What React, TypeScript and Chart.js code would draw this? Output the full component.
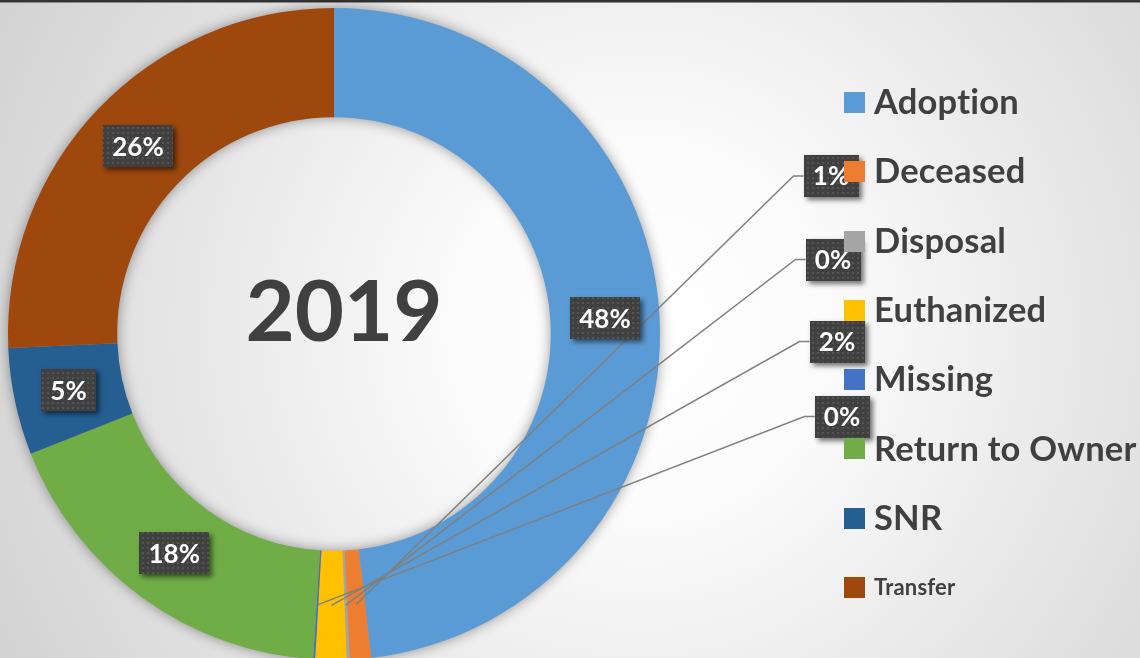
import React, { useEffect, useRef } from "react";
import { Chart, registerables } from "chart.js";

Chart.register(...registerables);

// ---- data ----
const categories = [
  "Adoption",
  "Deceased",
  "Disposal",
  "Euthanized",
  "Missing",
  "Return to Owner",
  "SNR",
  "Transfer",
];
const shares = [48.2, 1.05, 0.15, 1.55, 0.1, 18.0, 5.3, 25.7];
const sliceColors = [
  "#5B9BD5",
  "#ED7D31",
  "#A5A5A5",
  "#FFC000",
  "#4472C4",
  "#70AD47",
  "#255E91",
  "#9E480E",
];
const centerTitle = "2019";
const legendFontSizes = [34.5, 34.5, 34.5, 34.5, 34.5, 34.5, 34.5, 22];

// label boxes of tiny slices are moved out to the right, with leader lines
const outsideLabelCenters: Record<number, [number, number]> = {
  1: [831, 176],
  2: [833, 259.5],
  3: [837, 341.5],
  4: [842, 416.5],
};

const FONT = "Lato, 'Open Sans', 'Noto Sans', sans-serif";
const TEXT_COLOR = "#404040";

function makePattern(ctx: CanvasRenderingContext2D) {
  const c = document.createElement("canvas");
  c.width = 5;
  c.height = 5;
  const p = c.getContext("2d")!;
  p.fillStyle = "#404040";
  p.fillRect(0, 0, 5, 5);
  p.fillStyle = "#545454";
  p.fillRect(2, 2, 2, 2);
  return ctx.createPattern(c, "repeat")!;
}

const backgroundPlugin = {
  id: "bg",
  beforeDraw(chart: any) {
    const ctx: CanvasRenderingContext2D = chart.ctx;
    const w = chart.width;
    const h = chart.height;
    ctx.save();
    const g = ctx.createRadialGradient(640, 330, 0, 640, 330, 760);
    g.addColorStop(0, "#ffffff");
    g.addColorStop(0.25, "#fbfbfb");
    g.addColorStop(1, "#cfcfcf");
    ctx.fillStyle = g;
    ctx.fillRect(0, 0, w, h);
    ctx.fillStyle = "#333333";
    ctx.fillRect(0, 0, w, 2);
    ctx.fillStyle = "#8a8a8a";
    ctx.fillRect(0, 2, w, 1);
    ctx.restore();
  },
};

const ringShadowPlugin = {
  id: "ringShadow",
  beforeDatasetsDraw(chart: any) {
    const meta = chart.getDatasetMeta(0);
    if (!meta.data.length) return;
    const a = meta.data[0].getProps(["x", "y", "innerRadius", "outerRadius"], true);
    const ctx: CanvasRenderingContext2D = chart.ctx;
    ctx.save();
    ctx.shadowColor = "rgba(0,0,0,0.45)";
    ctx.shadowBlur = 14;
    ctx.beginPath();
    ctx.arc(a.x, a.y, a.outerRadius - 1, 0, Math.PI * 2);
    ctx.arc(a.x, a.y, a.innerRadius + 1, 0, Math.PI * 2, true);
    ctx.fillStyle = "#999999";
    ctx.fill("evenodd");
    ctx.restore();
  },
};

function setNoLigatures(ctx: any) {
  try {
    ctx.letterSpacing = "0.2px";
  } catch (e) {
    /* ignore */
  }
}

const overlayPlugin = {
  id: "overlay",
  afterDatasetsDraw(chart: any) {
    const ctx: CanvasRenderingContext2D = chart.ctx;
    const meta = chart.getDatasetMeta(0);
    const values: number[] = chart.data.datasets[0].data;
    const total = values.reduce((s, v) => s + v, 0);
    const pattern = makePattern(ctx);

    const boxes: { cx: number; cy: number; text: string }[] = [];
    const leaders: { sx: number; sy: number; cx: number; cy: number; w: number }[] = [];

    ctx.save();
    ctx.font = `bold 26px ${FONT}`;
    meta.data.forEach((arc: any, i: number) => {
      const p = arc.getProps(
        ["x", "y", "startAngle", "endAngle", "innerRadius", "outerRadius"],
        true
      );
      const mid = (p.startAngle + p.endAngle) / 2;
      const r = (p.innerRadius + p.outerRadius) / 2;
      const mx = p.x + Math.cos(mid) * r;
      const my = p.y + Math.sin(mid) * r;
      const text = Math.round((values[i] / total) * 100) + "%";
      const out = outsideLabelCenters[i];
      if (out) {
        const w = Math.round(ctx.measureText(text).width + 19);
        leaders.push({ sx: mx, sy: my, cx: out[0], cy: out[1], w });
        boxes.push({ cx: out[0], cy: out[1], text });
      } else {
        boxes.push({ cx: mx, cy: my, text });
      }
    });

    // leader lines
    ctx.strokeStyle = "#7f7f7f";
    ctx.lineWidth = 1.5;
    leaders.forEach((l) => {
      const left = l.cx - l.w / 2;
      ctx.beginPath();
      ctx.moveTo(l.sx, l.sy);
      ctx.lineTo(left - 10, l.cy);
      ctx.lineTo(left, l.cy);
      ctx.stroke();
    });

    // label boxes
    boxes.forEach((b) => {
      const tw = ctx.measureText(b.text).width;
      const w = Math.round(tw + 19);
      const h = 42;
      const x = Math.round(b.cx - w / 2);
      const y = Math.round(b.cy - h / 2);
      ctx.save();
      ctx.shadowColor = "rgba(0,0,0,0.55)";
      ctx.shadowBlur = 5;
      ctx.shadowOffsetX = 3;
      ctx.shadowOffsetY = 3;
      ctx.fillStyle = "#404040";
      ctx.fillRect(x, y, w, h);
      ctx.restore();
      ctx.fillStyle = pattern;
      ctx.fillRect(x, y, w, h);
      ctx.fillStyle = "#ffffff";
      ctx.textAlign = "center";
      ctx.textBaseline = "middle";
      ctx.fillText(b.text, b.cx, b.cy + 1);
    });

    // centre title
    ctx.fillStyle = TEXT_COLOR;
    ctx.font = `bold 85px ${FONT}`;
    ctx.textAlign = "center";
    ctx.textBaseline = "alphabetic";
    ctx.fillText(centerTitle, 344, 341);

    // legend
    const legendX = 844;
    const firstY = 102.4;
    const step = 69.3;
    setNoLigatures(ctx);
    categories.forEach((name, i) => {
      const cy = firstY + i * step;
      ctx.fillStyle = sliceColors[i];
      ctx.fillRect(legendX, Math.round(cy - 10.5), 21, 21);
      const fs = legendFontSizes[i];
      ctx.fillStyle = TEXT_COLOR;
      ctx.font = `bold ${fs}px ${FONT}`;
      ctx.textAlign = "left";
      ctx.textBaseline = "alphabetic";
      ctx.fillText(name, 874, cy + fs * 0.34);
    });
    ctx.restore();
  },
};

export default function App() {
  const ref = useRef<HTMLCanvasElement | null>(null);
  useEffect(() => {
    if (!ref.current) return;
    const chart = new Chart(ref.current, {
      type: "doughnut",
      data: {
        labels: categories,
        datasets: [
          {
            data: shares,
            backgroundColor: sliceColors,
            borderWidth: 0,
          },
        ],
      },
      options: {
        responsive: false,
        animation: false,
        cutout: "66.5%",
        layout: { padding: { left: 8, top: 8, right: 480, bottom: 8 } },
        plugins: {
          legend: { display: false },
          tooltip: { enabled: false },
        },
      },
      plugins: [backgroundPlugin, ringShadowPlugin, overlayPlugin],
    });
    return () => chart.destroy();
  }, []);
  return (
    <div
      style={{
        position: "fixed",
        left: 0,
        top: 0,
        width: 1140,
        height: 658,
        overflow: "hidden",
      }}
    >
      <canvas ref={ref} width={1140} height={668} style={{ display: "block" }} />
    </div>
  );
}
